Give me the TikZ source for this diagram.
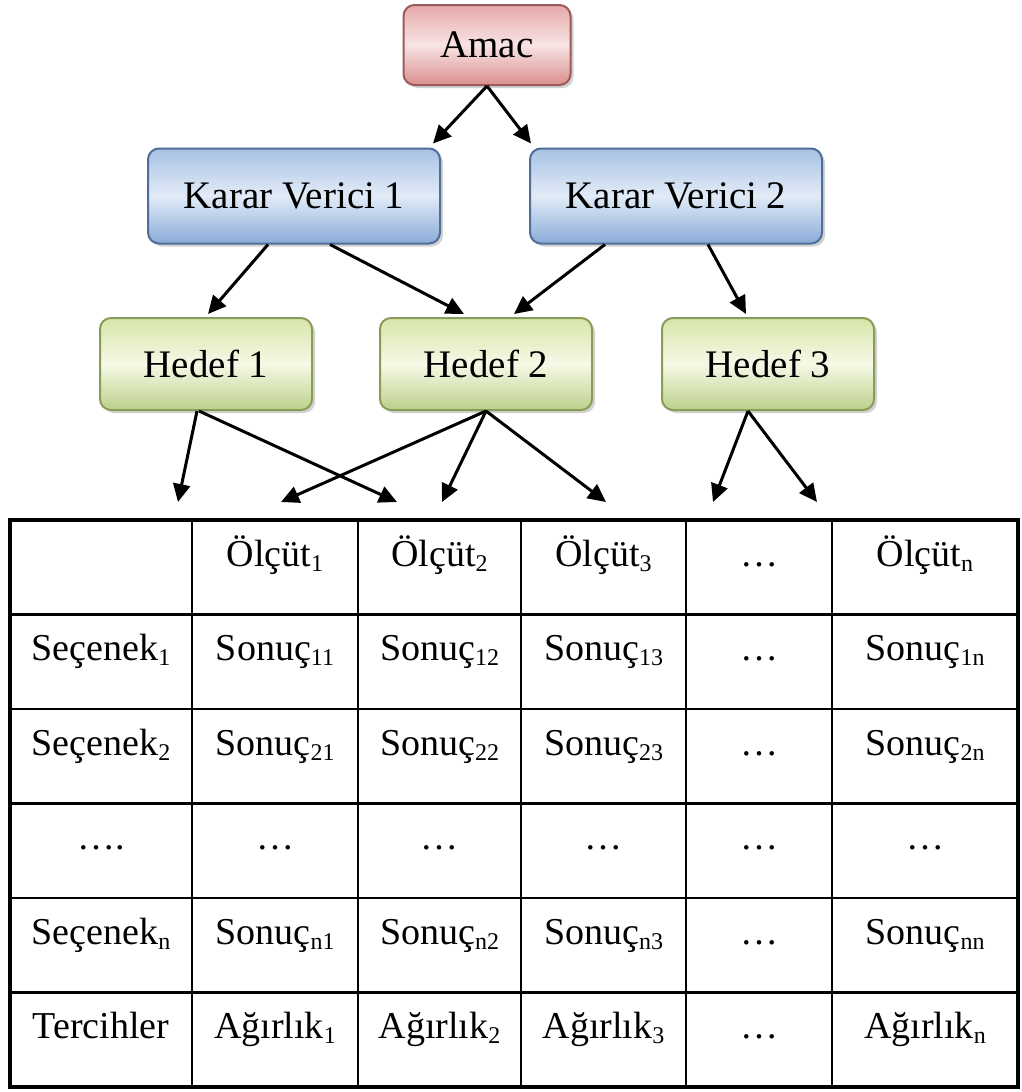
\documentclass[tikz,border=0pt]{standalone}
\usepackage{fontspec}
\setmainfont{Liberation Serif}
\usetikzlibrary{arrows.meta,shadows}
\newcommand\sbs[1]{\raisebox{-5pt}{\fontsize{24}{24}\selectfont #1}}
\definecolor{rbd}{HTML}{9C5A5A}
\definecolor{rtop}{HTML}{E6A8A8}
\definecolor{rmid}{HTML}{F8E4E4}
\definecolor{rbot}{HTML}{DA8E8E}
\definecolor{bbd}{HTML}{4F6E98}
\definecolor{btop}{HTML}{A6C2E4}
\definecolor{bmid}{HTML}{E2EBF7}
\definecolor{bbot}{HTML}{8AABD8}
\definecolor{gbd}{HTML}{8A9C5A}
\definecolor{gtop}{HTML}{D8E5A8}
\definecolor{gmid}{HTML}{F5F9E6}
\definecolor{gbot}{HTML}{BCD08A}
\tikzset{
  box/.style={rounded corners=11pt, line width=2pt, inner sep=0pt,
    font=\fontsize{39}{41}\selectfont,
    drop shadow={opacity=0.35, shadow xshift=3pt, shadow yshift=-3pt}},
  redbox/.style={box, draw=rbd, top color=rtop, bottom color=rbot, middle color=rmid,
    minimum width=167pt, minimum height=80pt},
  bluebox/.style={box, draw=bbd, top color=btop, bottom color=bbot, middle color=bmid,
    minimum width=292pt, minimum height=95pt},
  greenbox/.style={box, draw=gbd, top color=gtop, bottom color=gbot, middle color=gmid,
    minimum width=212pt, minimum height=92pt},
  arr/.style={line width=3pt, -{Triangle[length=18pt,width=17pt]}},
  cell/.style={draw, line width=2.5pt, inner sep=0pt, minimum height=94.5pt,
    text height=46pt, text depth=48.5pt, font=\fontsize{38}{40}\selectfont},
  c0/.style={cell, minimum width=182pt},
  c1/.style={cell, minimum width=166pt},
  c2/.style={cell, minimum width=163pt},
  c3/.style={cell, minimum width=165pt},
  c4/.style={cell, minimum width=146pt},
  c5/.style={cell, minimum width=186pt},
}
\begin{document}
\begin{tikzpicture}[x=1pt,y=-1pt]
\fill[white] (0,0) rectangle (1021,1092);
\useasboundingbox (0,0) rectangle (1021,1092);

% hierarchy boxes
\node[redbox] (amac) at (487,45) {Amac};
\node[bluebox] (kv1) at (294,196) {Karar Verici 1};
\node[bluebox] (kv2) at (676,196) {Karar Verici 2};
\node[greenbox] (h1) at (206,364) {Hedef 1};
\node[greenbox] (h2) at (486,364) {Hedef 2};
\node[greenbox] (h3) at (768,364) {Hedef 3};

% free arrow ends above the table
\coordinate (t1) at (178,502);
\coordinate (t2) at (281,502);
\coordinate (t3) at (397,502);
\coordinate (t4) at (442,502);
\coordinate (t5) at (606,502);
\coordinate (t6) at (713,502);
\coordinate (t7) at (817,502);

% arrows
\draw[arr] (amac.south) -- ([xshift=-8pt,yshift=4pt]kv1.north east);
\draw[arr] (amac.south) -- ([xshift=2pt,yshift=4pt]kv2.north west);
\draw[arr] ([xshift=-26pt]kv1.south) -- ([xshift=2pt,yshift=3pt]h1.north);
\draw[arr] ([xshift=36pt]kv1.south) -- ([xshift=-22pt,yshift=3pt]h2.north);
\draw[arr] ([xshift=-71pt]kv2.south) -- ([xshift=28pt,yshift=3pt]h2.north);
\draw[arr] ([xshift=32pt]kv2.south) -- ([xshift=-22pt,yshift=3pt]h3.north);
\draw[arr] ([xshift=-9pt]h1.south) -- (t1);
\draw[arr] ([xshift=-7pt]h1.south) -- (t3);
\draw[arr] (h2.south) -- (t2);
\draw[arr] (h2.south) -- (t4);
\draw[arr] (h2.south) -- (t5);
\draw[arr] ([xshift=-20pt]h3.south) -- (t6);
\draw[arr] ([xshift=-20pt]h3.south) -- (t7);

% table
% row 0
\node[c0] (r0c0) at (101,567.25) {};
\node[c1] (r0c1) at (275,567.25) {Ölçüt\sbs{1}};
\node[c2] (r0c2) at (439.5,567.25) {Ölçüt\sbs{2}};
\node[c3] (r0c3) at (603.5,567.25) {Ölçüt\sbs{3}};
\node[c4] (r0c4) at (759,567.25) {…};
\node[c5] (r0c5) at (925,567.25) {Ölçüt\sbs{n}};
% row 1
\node[c0] (r1c0) at (101,661.75) {Seçenek\sbs{1}};
\node[c1] (r1c1) at (275,661.75) {Sonuç\sbs{11}};
\node[c2] (r1c2) at (439.5,661.75) {Sonuç\sbs{12}};
\node[c3] (r1c3) at (603.5,661.75) {Sonuç\sbs{13}};
\node[c4] (r1c4) at (759,661.75) {…};
\node[c5] (r1c5) at (925,661.75) {Sonuç\sbs{1n}};
% row 2
\node[c0] (r2c0) at (101,756.25) {Seçenek\sbs{2}};
\node[c1] (r2c1) at (275,756.25) {Sonuç\sbs{21}};
\node[c2] (r2c2) at (439.5,756.25) {Sonuç\sbs{22}};
\node[c3] (r2c3) at (603.5,756.25) {Sonuç\sbs{23}};
\node[c4] (r2c4) at (759,756.25) {…};
\node[c5] (r2c5) at (925,756.25) {Sonuç\sbs{2n}};
% row 3
\node[c0] (r3c0) at (101,850.75) {….};
\node[c1] (r3c1) at (275,850.75) {…};
\node[c2] (r3c2) at (439.5,850.75) {…};
\node[c3] (r3c3) at (603.5,850.75) {…};
\node[c4] (r3c4) at (759,850.75) {…};
\node[c5] (r3c5) at (925,850.75) {…};
% row 4
\node[c0] (r4c0) at (101,945.25) {Seçenek\sbs{n}};
\node[c1] (r4c1) at (275,945.25) {Sonuç\sbs{n1}};
\node[c2] (r4c2) at (439.5,945.25) {Sonuç\sbs{n2}};
\node[c3] (r4c3) at (603.5,945.25) {Sonuç\sbs{n3}};
\node[c4] (r4c4) at (759,945.25) {…};
\node[c5] (r4c5) at (925,945.25) {Sonuç\sbs{nn}};
% row 5
\node[c0] (r5c0) at (101,1039.75) {Tercihler};
\node[c1] (r5c1) at (275,1039.75) {Ağırlık\sbs{1}};
\node[c2] (r5c2) at (439.5,1039.75) {Ağırlık\sbs{2}};
\node[c3] (r5c3) at (603.5,1039.75) {Ağırlık\sbs{3}};
\node[c4] (r5c4) at (759,1039.75) {…};
\node[c5] (r5c5) at (925,1039.75) {Ağırlık\sbs{n}};

% outer frame
\node[draw, line width=3.5pt, inner sep=0pt, minimum width=1008pt, minimum height=567pt] (frame) at (514,803.5) {};
\end{tikzpicture}
\end{document}
